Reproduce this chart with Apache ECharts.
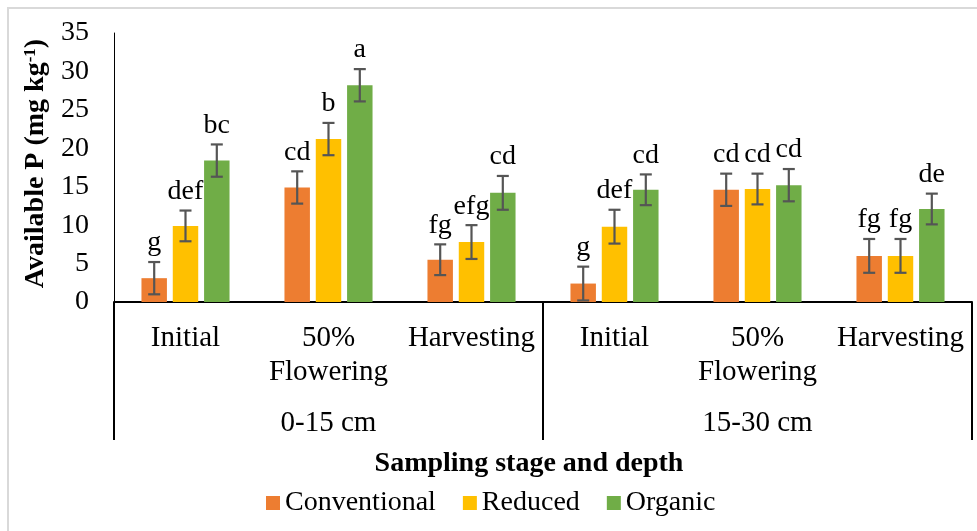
<!DOCTYPE html>
<html><head><meta charset="utf-8">
<script src="https://cdn.jsdelivr.net/npm/echarts@6/dist/echarts.min.js"></script>
<style>html,body{margin:0;padding:0;background:#fff}#c{width:977px;height:531px}</style>
</head><body><div id="c"></div>
<script>
const stages = ["Initial", "50%\nFlowering", "Harvesting", "Initial", "50%\nFlowering", "Harvesting"];
const depths = ["0-15 cm", "15-30 cm"];
const seriesNames = ["Conventional", "Reduced", "Organic"];
const conventional = [3.1, 14.9, 5.5, 2.4, 14.6, 6.0];
const reduced = [9.9, 21.2, 7.8, 9.8, 14.7, 6.0];
const organic = [18.4, 28.2, 14.2, 14.6, 15.2, 12.1];
const convErr = [2.1, 2.1, 2.0, 2.2, 2.1, 2.2];
const redErr = [2.0, 2.1, 2.2, 2.2, 2.0, 2.2];
const orgErr = [2.1, 2.1, 2.2, 2.0, 2.1, 2.0];
const convLetters = ["g", "cd", "fg", "g", "cd", "fg"];
const redLetters = ["def", "b", "efg", "def", "cd", "fg"];
const orgLetters = ["bc", "a", "cd", "cd", "cd", "de"];
const yTicks = [0, 5, 10, 15, 20, 25, 30, 35];

const colors = ["#ED7D31", "#FFC000", "#70AD47"];
const FONT = '"Liberation Serif", "Times New Roman", serif';
const BAR_FRAC = 0.178, GAP = 0.23;
const values = [conventional, reduced, organic];
const errs = [convErr, redErr, orgErr];
const letters = [convLetters, redLetters, orgLetters];

const chart = echarts.init(document.getElementById('c'), null, {renderer: 'canvas'});

function makeRender(si) {
  return function (params, api) {
    const ci = api.value(0), v = api.value(1), e = api.value(2);
    const band = api.size([1, 0])[0];
    const bw = band * BAR_FRAC, step = bw * (1 + GAP);
    const cx = api.coord([ci, 0])[0] + (si - 1) * step;
    const yt = api.coord([ci, v + e])[1];
    const yb = api.coord([ci, v - e])[1];
    const cap = 6;
    const ls = {stroke: '#555555', lineWidth: 2.2};
    return {
      type: 'group',
      children: [
        {type: 'line', shape: {x1: cx, y1: yt, x2: cx, y2: yb}, style: ls},
        {type: 'line', shape: {x1: cx - cap, y1: yt, x2: cx + cap, y2: yt}, style: ls},
        {type: 'line', shape: {x1: cx - cap, y1: yb, x2: cx + cap, y2: yb}, style: ls},
        {type: 'text', style: {text: letters[si][params.dataIndex], x: cx, y: yt - 5,
          align: 'center', verticalAlign: 'bottom', fill: '#000', fontSize: 28, fontFamily: FONT}}
      ]
    };
  };
}

const series = [];
seriesNames.forEach((n, si) => {
  series.push({
    name: n, type: 'bar', data: values[si], barWidth: (BAR_FRAC * 100) + '%', barGap: (GAP * 100) + '%',
    itemStyle: {color: colors[si]}, xAxisIndex: 0, yAxisIndex: 0, z: 2
  });
});
seriesNames.forEach((n, si) => {
  series.push({
    name: 'err' + si, type: 'custom', xAxisIndex: 0, yAxisIndex: 0, z: 5,
    renderItem: makeRender(si),
    data: values[si].map((v, i) => [i, v, errs[si][i]]),
    encode: {x: 0, y: 1}
  });
});

chart.setOption({
  animation: false,
  grid: {left: 114, right: 5, top: 33, bottom: 229, containLabel: false},
  legend: {
    data: seriesNames, left: 261, top: 484, itemWidth: 14, itemHeight: 14, itemGap: 27,
    icon: 'rect', textStyle: {fontFamily: FONT, fontSize: 28, color: '#000'}
  },
  xAxis: [
    {type: 'category', data: stages, position: 'bottom',
     axisLine: {show: true, lineStyle: {color: '#000', width: 2}},
     axisTick: {show: false},
     axisLabel: {interval: 0, margin: 19, fontFamily: FONT, fontSize: 29, color: '#000', lineHeight: 34}},
    {type: 'category', data: depths, position: 'bottom', gridIndex: 0,
     axisLine: {show: false},
     axisTick: {show: true, interval: 0, length: 138, lineStyle: {color: '#000', width: 2}},
     axisLabel: {interval: 0, margin: 107, fontFamily: FONT, fontSize: 29, color: '#000'}}
  ],
  yAxis: {
    type: 'value', min: 0, max: 35, interval: 5,
    axisLine: {show: true, lineStyle: {color: '#000', width: 1}},
    axisTick: {show: false}, splitLine: {show: false},
    axisLabel: {margin: 25, fontFamily: FONT, fontSize: 28, color: '#000',
      formatter: v => yTicks.includes(v) ? String(v) : ''},
    name: 'Available P (mg kg{sup|-1})', nameLocation: 'middle', nameGap: 58, nameRotate: 90,
    nameTextStyle: {fontFamily: FONT, fontSize: 28, fontWeight: 'bold', color: '#000', padding: [0, 0, 0, 8],
      rich: {sup: {fontFamily: FONT, fontSize: 17, fontWeight: 'bold', color: '#000', verticalAlign: 'top'}}}
  },
  graphic: [
    {type: 'rect', shape: {x: 8, y: 8, width: 1000, height: 600}, style: {fill: 'none', stroke: '#d9d9d9', lineWidth: 2}, silent: true, z: -1},
    {type: 'text', x: 529, y: 464, style: {text: 'Sampling stage and depth', align: 'center', verticalAlign: 'middle',
      fontFamily: FONT, fontSize: 28, fontWeight: 'bold', fill: '#000'}}
  ],
  series: series
});
</script></body></html>
